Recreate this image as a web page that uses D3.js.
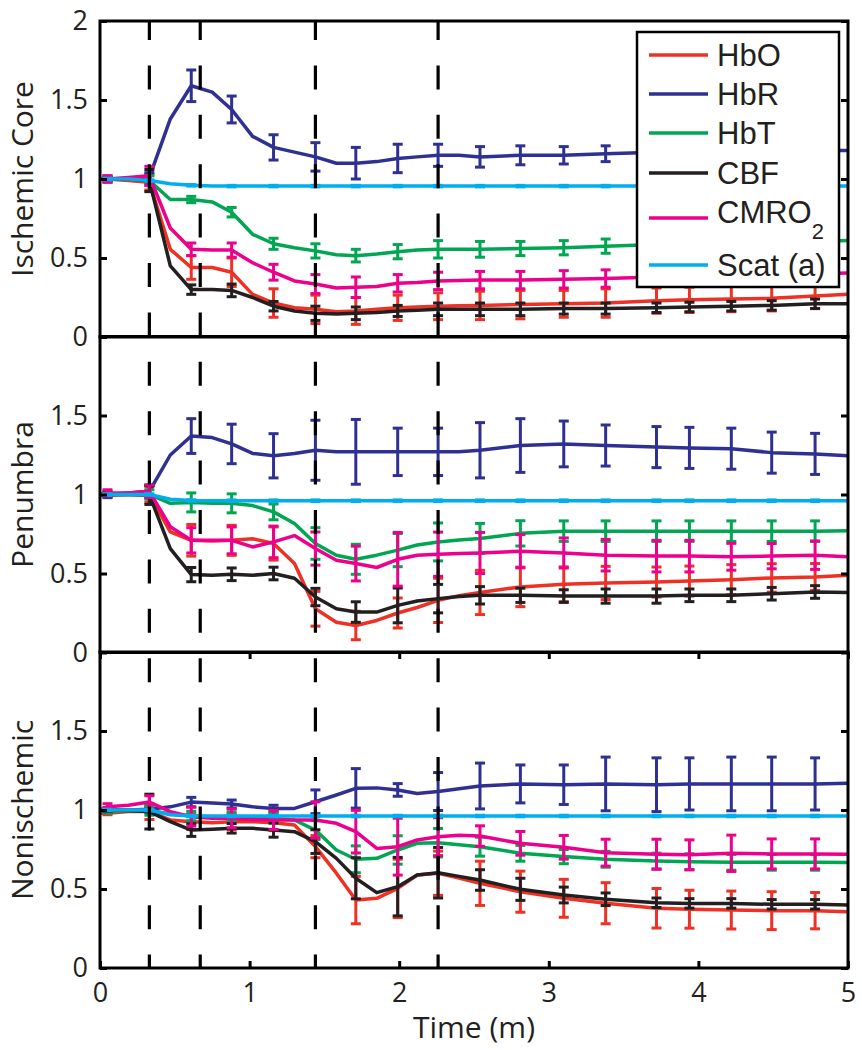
<!DOCTYPE html>
<html><head><meta charset="utf-8">
<script src="https://cdn.jsdelivr.net/npm/d3@7"></script>
<style>body{margin:0;background:#fff}svg{display:block}</style>
</head><body><svg id="c" width="862" height="1050"></svg>
<script>
// ---------- DATA ----------
const seriesNames = ["HbO", "HbR", "HbT", "CBF", "CMRO2", "Scat (a)"];
const panelNames = ["Ischemic Core", "Penumbra", "Nonischemic"];
const eventTimes = [0.33, 0.67, 1.44, 2.26];
const xTicks = [0, 1, 2, 3, 4, 5];
const yTicksTop = [0, 0.5, 1, 1.5, 2];
const yTicksOther = [0, 0.5, 1, 1.5];

const timeLine = [0, 0.05, 0.19, 0.33, 0.47, 0.61, 0.75, 0.88, 1.02, 1.16, 1.30, 1.44, 1.58, 1.71, 1.85, 1.99, 2.12, 2.26, 2.40, 2.54, 2.81, 3.10, 3.38, 3.72, 3.94, 4.22, 4.49, 4.78, 5.0];
const timeErr = [0.05, 0.33, 0.61, 0.88, 1.16, 1.44, 1.71, 1.99, 2.26, 2.54, 2.81, 3.10, 3.38, 3.72, 3.94, 4.22, 4.49, 4.78];

// Ischemic core
const core_HbO   = [1.0,1.0,0.99,0.98,0.555,0.44,0.44,0.41,0.27,0.215,0.185,0.175,0.16,0.165,0.175,0.185,0.19,0.195,0.198,0.2,0.205,0.21,0.215,0.23,0.235,0.24,0.245,0.26,0.27];
const core_HbR   = [1.0,1.0,1.0,1.01,1.38,1.59,1.55,1.44,1.27,1.2,1.17,1.14,1.10,1.10,1.11,1.13,1.14,1.15,1.15,1.14,1.15,1.15,1.16,1.17,1.17,1.18,1.18,1.18,1.18];
const core_HbT   = [1.0,1.0,1.0,0.99,0.87,0.87,0.855,0.79,0.65,0.59,0.565,0.545,0.52,0.515,0.525,0.54,0.55,0.555,0.555,0.555,0.56,0.565,0.575,0.585,0.59,0.595,0.6,0.605,0.61];
const core_CBF   = [1.0,1.0,1.0,0.99,0.45,0.30,0.30,0.295,0.25,0.195,0.165,0.15,0.145,0.15,0.155,0.165,0.17,0.175,0.175,0.175,0.175,0.18,0.18,0.185,0.19,0.195,0.2,0.21,0.21];
const core_CMRO2 = [1.0,1.0,1.01,1.02,0.69,0.555,0.55,0.55,0.47,0.41,0.355,0.335,0.31,0.315,0.32,0.34,0.345,0.355,0.358,0.36,0.36,0.365,0.37,0.38,0.385,0.39,0.395,0.40,0.405];
const core_Scat  = [1.0,1.0,1.0,0.99,0.97,0.96,0.956,0.955,0.955,0.955,0.955,0.955,0.955,0.955,0.955,0.955,0.955,0.955,0.955,0.955,0.955,0.955,0.955,0.955,0.955,0.955,0.955,0.955,0.955];
const core_HbO_err   = [0.01,0.05,0.075,0.09,0.09,0.09,0.085,0.08,0.085,0.09,0.09,0.085,0.09,0.08,0.08,0.08,0.08,0.08];
const core_HbR_err   = [0.02,0.03,0.1,0.085,0.08,0.09,0.1,0.09,0.07,0.065,0.06,0.055,0.05,0.05,0.05,0.05,0.05,0.05];
const core_HbT_err   = [0.01,0.03,0.02,0.03,0.035,0.045,0.04,0.045,0.055,0.05,0.045,0.045,0.045,0.045,0.045,0.045,0.045,0.045];
const core_CBF_err   = [0.01,0.07,0.03,0.04,0.03,0.045,0.04,0.035,0.04,0.04,0.04,0.035,0.035,0.03,0.03,0.03,0.03,0.03];
const core_CMRO2_err = [0.02,0.06,0.04,0.045,0.05,0.06,0.065,0.055,0.055,0.055,0.055,0.055,0.055,0.055,0.055,0.055,0.055,0.055];
const core_Scat_err  = [0.005,0.005,0.005,0.005,0.005,0.005,0.005,0.005,0.005,0.005,0.005,0.005,0.005,0.005,0.005,0.005,0.005,0.005];

// Penumbra
const pen_HbO   = [1.0,0.995,1.0,1.0,0.764,0.71,0.706,0.71,0.72,0.69,0.563,0.277,0.192,0.171,0.203,0.25,0.285,0.33,0.36,0.38,0.415,0.432,0.44,0.446,0.452,0.461,0.472,0.478,0.489];
const pen_HbR   = [1.0,1.0,1.01,1.02,1.25,1.37,1.36,1.32,1.26,1.245,1.26,1.28,1.27,1.27,1.27,1.27,1.27,1.27,1.27,1.28,1.31,1.32,1.31,1.30,1.295,1.29,1.265,1.257,1.245];
const pen_HbT   = [1.0,1.0,1.0,1.0,0.944,0.95,0.944,0.944,0.93,0.89,0.817,0.69,0.616,0.59,0.616,0.648,0.68,0.70,0.712,0.722,0.754,0.768,0.768,0.768,0.768,0.768,0.768,0.768,0.77];
const pen_CBF   = [1.0,1.0,1.0,0.997,0.658,0.493,0.489,0.495,0.489,0.5,0.47,0.351,0.277,0.256,0.256,0.298,0.326,0.341,0.355,0.362,0.362,0.357,0.357,0.357,0.362,0.362,0.372,0.383,0.38];
const pen_CMRO2 = [1.0,1.01,1.01,1.02,0.796,0.71,0.71,0.71,0.668,0.70,0.74,0.658,0.584,0.563,0.538,0.59,0.616,0.622,0.626,0.63,0.641,0.63,0.616,0.61,0.61,0.606,0.61,0.616,0.606];
const pen_Scat  = [1.0,1.0,1.0,1.0,0.97,0.962,0.961,0.961,0.961,0.961,0.961,0.961,0.961,0.961,0.961,0.961,0.961,0.961,0.961,0.961,0.961,0.961,0.961,0.961,0.961,0.961,0.961,0.961,0.961];
const pen_HbO_err   = [0.01,0.05,0.1,0.095,0.105,0.11,0.09,0.095,0.14,0.14,0.125,0.11,0.105,0.095,0.095,0.095,0.09,0.085];
const pen_HbR_err   = [0.02,0.04,0.11,0.125,0.14,0.19,0.205,0.15,0.15,0.175,0.17,0.145,0.13,0.13,0.13,0.13,0.13,0.13];
const pen_HbT_err   = [0.01,0.03,0.06,0.06,0.05,0.1,0.095,0.105,0.12,0.095,0.08,0.065,0.065,0.065,0.065,0.065,0.065,0.065];
const pen_CBF_err   = [0.01,0.06,0.045,0.04,0.04,0.055,0.065,0.11,0.09,0.055,0.045,0.04,0.045,0.045,0.04,0.04,0.04,0.04];
const pen_CMRO2_err = [0.02,0.04,0.08,0.085,0.1,0.105,0.11,0.17,0.14,0.13,0.105,0.095,0.1,0.1,0.1,0.085,0.08,0.09];
const pen_Scat_err  = [0.005,0.005,0.005,0.005,0.005,0.005,0.005,0.005,0.005,0.005,0.005,0.005,0.005,0.005,0.005,0.005,0.005,0.005];

// Nonischemic
const non_HbO   = [0.98,0.98,0.99,0.99,0.937,0.926,0.92,0.926,0.926,0.92,0.905,0.768,0.6,0.43,0.441,0.504,0.589,0.6,0.57,0.536,0.483,0.441,0.41,0.378,0.372,0.367,0.363,0.363,0.356];
const non_HbR   = [1.0,1.0,1.0,1.004,1.02,1.05,1.045,1.038,1.02,1.01,1.01,1.052,1.095,1.137,1.14,1.127,1.105,1.117,1.135,1.152,1.165,1.16,1.165,1.16,1.165,1.165,1.165,1.165,1.169];
const non_HbT   = [1.0,0.99,0.995,0.997,0.975,0.962,0.958,0.958,0.958,0.947,0.937,0.873,0.747,0.688,0.694,0.747,0.789,0.793,0.78,0.768,0.726,0.705,0.688,0.677,0.673,0.669,0.669,0.669,0.667];
const non_CBF   = [1.0,1.0,0.997,0.99,0.926,0.873,0.878,0.884,0.884,0.873,0.863,0.8,0.694,0.568,0.477,0.515,0.589,0.603,0.58,0.557,0.498,0.462,0.435,0.413,0.409,0.409,0.403,0.403,0.399];
const non_CMRO2 = [1.0,1.02,1.03,1.05,0.99,0.958,0.947,0.947,0.94,0.937,0.937,0.937,0.916,0.863,0.757,0.768,0.81,0.831,0.84,0.835,0.789,0.764,0.73,0.72,0.716,0.726,0.722,0.722,0.72];
const non_Scat  = [1.0,1.0,1.0,1.0,0.97,0.962,0.962,0.962,0.962,0.962,0.962,0.962,0.962,0.962,0.962,0.962,0.962,0.962,0.962,0.962,0.962,0.962,0.962,0.962,0.962,0.962,0.962,0.962,0.962];
const non_HbO_err   = [0.01,0.05,0.05,0.05,0.05,0.07,0.15,0.185,0.14,0.14,0.13,0.12,0.13,0.125,0.12,0.12,0.12,0.115];
const non_HbR_err   = [0.015,0.02,0.03,0.025,0.02,0.075,0.125,0.04,0.12,0.145,0.12,0.125,0.17,0.17,0.165,0.17,0.17,0.165];
const non_HbT_err   = [0.01,0.03,0.03,0.03,0.03,0.06,0.085,0.09,0.09,0.06,0.05,0.045,0.05,0.05,0.05,0.05,0.05,0.05];
const non_CBF_err   = [0.01,0.11,0.04,0.03,0.045,0.075,0.13,0.185,0.16,0.065,0.07,0.05,0.04,0.03,0.03,0.03,0.03,0.03];
const non_CMRO2_err = [0.02,0.04,0.06,0.06,0.06,0.115,0.135,0.18,0.12,0.065,0.075,0.075,0.085,0.095,0.095,0.115,0.095,0.095];
const non_Scat_err  = [0.005,0.005,0.005,0.005,0.005,0.005,0.005,0.005,0.005,0.005,0.005,0.005,0.005,0.005,0.005,0.005,0.005,0.005];

// ---------- TABLES BUILT FROM THE ARRAYS ----------
const panels = [
  {name: panelNames[0], mean: [core_HbO, core_HbR, core_HbT, core_CBF, core_CMRO2, core_Scat],
   err: [core_HbO_err, core_HbR_err, core_HbT_err, core_CBF_err, core_CMRO2_err, core_Scat_err]},
  {name: panelNames[1], mean: [pen_HbO, pen_HbR, pen_HbT, pen_CBF, pen_CMRO2, pen_Scat],
   err: [pen_HbO_err, pen_HbR_err, pen_HbT_err, pen_CBF_err, pen_CMRO2_err, pen_Scat_err]},
  {name: panelNames[2], mean: [non_HbO, non_HbR, non_HbT, non_CBF, non_CMRO2, non_Scat],
   err: [non_HbO_err, non_HbR_err, non_HbT_err, non_CBF_err, non_CMRO2_err, non_Scat_err]}
];
const colors = ["#ee3124", "#2e3192", "#00a651", "#231f20", "#ec008c", "#00aeef"];

// ---------- LAYOUT ----------
const svg = d3.select("#c");
const L = 100, R = 848;
const panelTops = [21, 336.5, 652];
const PH = 316;
const x = d3.scaleLinear().domain([0, 5]).range([L, R]);
const tickFont = "'Open Sans', 'Noto Sans', sans-serif";

panels.forEach((p, pi) => {
  const top = panelTops[pi];
  const y = d3.scaleLinear().domain([0, 2]).range([top + PH, top]);
  const g = svg.append("g");

  // series lines + error bars
  p.mean.forEach((vals, si) => {
    const pts = timeLine.map((t, i) => [t, vals[i]]);
    g.append("path")
      .attr("d", d3.line().x(d => x(d[0])).y(d => y(d[1]))(pts))
      .attr("fill", "none").attr("stroke", colors[si])
      .attr("stroke-width", 3.5).attr("stroke-linejoin", "round");
    const eb = g.append("g").attr("stroke", colors[si]).attr("stroke-width", 3);
    timeErr.forEach((t, k) => {
      const idx = timeLine.indexOf(t);
      const m = vals[idx], e = p.err[si][k];
      const cx = x(t), y1 = y(m + e), y2 = y(m - e);
      eb.append("line").attr("x1", cx).attr("x2", cx).attr("y1", y1).attr("y2", y2);
      eb.append("line").attr("x1", cx - 5).attr("x2", cx + 5).attr("y1", y1).attr("y2", y1);
      eb.append("line").attr("x1", cx - 5).attr("x2", cx + 5).attr("y1", y2).attr("y2", y2);
    });
  });

  // y axes (inward ticks)
  const yl = g.append("g").attr("transform", `translate(${L},0)`)
    .call(d3.axisLeft(y).tickValues(pi === 0 ? yTicksTop : yTicksOther)
      .tickSizeInner(-7).tickSizeOuter(0).tickPadding(12).tickFormat(d3.format("")));
  yl.select(".domain").remove();
  yl.selectAll("line").attr("stroke", "#000").attr("stroke-width", 3);
  yl.selectAll("text").attr("font-family", tickFont).attr("font-size", 27).attr("fill", "#231f20");

  const yr = g.append("g").attr("transform", `translate(${R},0)`)
    .call(d3.axisRight(y).tickValues(yTicksTop).tickSizeInner(-7).tickSizeOuter(0).tickFormat(""));
  yr.select(".domain").remove();
  yr.selectAll("line").attr("stroke", "#000").attr("stroke-width", 3);

  // y title
  g.append("text").attr("transform", `translate(33,${top + PH / 2}) rotate(-90)`)
    .attr("text-anchor", "middle").attr("font-family", tickFont).attr("font-size", 30)
    .attr("fill", "#231f20").text(p.name);

  if (pi === 2) {
    const xb = g.append("g").attr("transform", `translate(0,${top + PH})`)
      .call(d3.axisBottom(x).tickValues(xTicks).tickSizeInner(-7).tickSizeOuter(0).tickPadding(15).tickFormat(d3.format("d")));
    xb.select(".domain").remove();
    xb.selectAll("line").attr("stroke", "#000").attr("stroke-width", 3);
    xb.selectAll("text").attr("font-family", tickFont).attr("font-size", 27).attr("fill", "#231f20");
    const xt = g.append("g").attr("transform", `translate(0,${top})`)
      .call(d3.axisTop(x).tickValues(xTicks).tickSizeInner(-7).tickSizeOuter(0).tickFormat(""));
    xt.select(".domain").remove();
    xt.selectAll("line").attr("stroke", "#000").attr("stroke-width", 3);
  }
});

// event dashed lines (through all panels)
svg.append("g").selectAll("line").data(eventTimes).join("line")
  .attr("x1", d => x(d)).attr("x2", d => x(d))
  .attr("y1", panelTops[0]).attr("y2", panelTops[2] + PH)
  .attr("stroke", "#000").attr("stroke-width", 3.2)
  .attr("stroke-dasharray", "24 25.4").attr("stroke-dashoffset", 5);

// panel frames
panels.forEach((p, pi) => {
  svg.append("rect").attr("x", L).attr("y", panelTops[pi]).attr("width", R - L).attr("height", PH)
    .attr("fill", "none").attr("stroke", "#000").attr("stroke-width", 3);
});

// x title
svg.append("text").attr("x", (L + R) / 2).attr("y", 1038).attr("text-anchor", "middle")
  .attr("font-family", tickFont).attr("font-size", 30).attr("fill", "#231f20").text("Time (m)");

// legend
const lg = svg.append("g");
lg.append("rect").attr("x", 637).attr("y", 32).attr("width", 202).attr("height", 255)
  .attr("fill", "#fff").attr("stroke", "#000").attr("stroke-width", 2.5);
const rowY = [55, 94, 133, 173, 218, 265];
const textY = [66, 105, 144, 184, 223, 276];
seriesNames.forEach((n, i) => {
  lg.append("line").attr("x1", 649).attr("x2", 708).attr("y1", rowY[i]).attr("y2", rowY[i])
    .attr("stroke", colors[i]).attr("stroke-width", 3.5);
  const t = lg.append("text").attr("x", 717).attr("y", textY[i])
    .attr("font-family", "'Liberation Sans', Arial, sans-serif").attr("font-size", 31).attr("fill", "#231f20");
  if (n === "CMRO2") {
    t.append("tspan").text("CMRO");
    t.append("tspan").attr("dy", 16).attr("font-size", 22).text("2");
  } else t.text(n);
});
</script></body></html>
